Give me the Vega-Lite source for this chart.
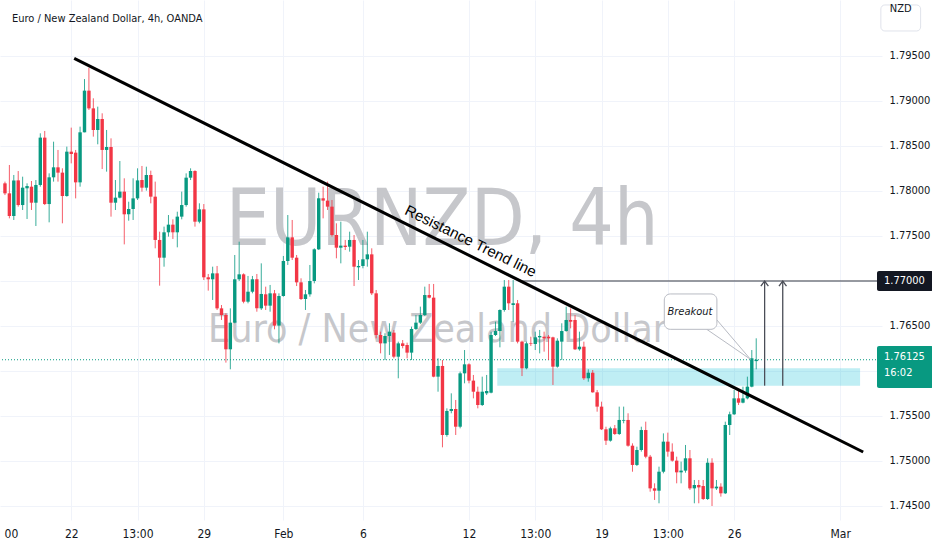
{
  "$schema": "https://vega.github.io/schema/vega-lite/v6.json",
  "width": 882,
  "height": 520,
  "autosize": {"type": "none"},
  "padding": {"left": 0, "top": 0, "right": 50, "bottom": 30},
  "background": "white",
  "config": {"view": {"stroke": null}, "font": "Liberation Sans Narrow, DejaVu Sans Condensed, Roboto Condensed, Arial, sans-serif"},
  "data": {"values": [{"one": 1}]},
  "datasets": {
    "candles": [
      {"i":-15,"o":1.78085,"h":1.78104,"l":1.77955,"c":1.77974},
      {"i":-14,"o":1.77974,"h":1.78289,"l":1.77696,"c":1.77722},
      {"i":-13,"o":1.77722,"h":1.78178,"l":1.77678,"c":1.78118},
      {"i":-12,"o":1.78118,"h":1.78222,"l":1.77826,"c":1.77844},
      {"i":-11,"o":1.77844,"h":1.78159,"l":1.77789,"c":1.78037},
      {"i":-10,"o":1.78030,"h":1.78085,"l":1.77689,"c":1.78055},
      {"i":-9,"o":1.78048,"h":1.78111,"l":1.77789,"c":1.77870},
      {"i":-8,"o":1.77870,"h":1.78122,"l":1.77611,"c":1.78067},
      {"i":-7,"o":1.78067,"h":1.78641,"l":1.78048,"c":1.78593},
      {"i":-6,"o":1.78593,"h":1.78667,"l":1.77844,"c":1.77855},
      {"i":-5,"o":1.77855,"h":1.78196,"l":1.77652,"c":1.78152},
      {"i":-4,"o":1.78152,"h":1.78548,"l":1.78104,"c":1.78263},
      {"i":-3,"o":1.78263,"h":1.78456,"l":1.78104,"c":1.78204},
      {"i":-2,"o":1.78204,"h":1.78252,"l":1.77641,"c":1.77944},
      {"i":-1,"o":1.77944,"h":1.78493,"l":1.77937,"c":1.78437},
      {"i":0,"o":1.78437,"h":1.78704,"l":1.78307,"c":1.78411},
      {"i":1,"o":1.78426,"h":1.78456,"l":1.77918,"c":1.78096},
      {"i":2,"o":1.78096,"h":1.78715,"l":1.78048,"c":1.78652},
      {"i":3,"o":1.78652,"h":1.79244,"l":1.78652,"c":1.79115},
      {"i":4,"o":1.79115,"h":1.79370,"l":1.78900,"c":1.78918},
      {"i":5,"o":1.78918,"h":1.79030,"l":1.78604,"c":1.78678},
      {"i":6,"o":1.78678,"h":1.78937,"l":1.78519,"c":1.78800},
      {"i":7,"o":1.78800,"h":1.78863,"l":1.78244,"c":1.78456},
      {"i":8,"o":1.78456,"h":1.78678,"l":1.78215,"c":1.78489},
      {"i":9,"o":1.78489,"h":1.78585,"l":1.77715,"c":1.77870},
      {"i":10,"o":1.77870,"h":1.78122,"l":1.77789,"c":1.77926},
      {"i":11,"o":1.77926,"h":1.78333,"l":1.77918,"c":1.77993},
      {"i":12,"o":1.77993,"h":1.78141,"l":1.77407,"c":1.77741},
      {"i":13,"o":1.77741,"h":1.77881,"l":1.77670,"c":1.77800},
      {"i":14,"o":1.77800,"h":1.78141,"l":1.77678,"c":1.77918},
      {"i":15,"o":1.77918,"h":1.78252,"l":1.77900,"c":1.78118},
      {"i":16,"o":1.78122,"h":1.78278,"l":1.77993,"c":1.78037},
      {"i":17,"o":1.78037,"h":1.78270,"l":1.78004,"c":1.78178},
      {"i":18,"o":1.78178,"h":1.78226,"l":1.77863,"c":1.77937},
      {"i":19,"o":1.77937,"h":1.78104,"l":1.77363,"c":1.77456},
      {"i":20,"o":1.77456,"h":1.77548,"l":1.76948,"c":1.77259},
      {"i":21,"o":1.77259,"h":1.77604,"l":1.77159,"c":1.77541},
      {"i":22,"o":1.77541,"h":1.77733,"l":1.77493,"c":1.77626},
      {"i":23,"o":1.77626,"h":1.77685,"l":1.77467,"c":1.77541},
      {"i":24,"o":1.77541,"h":1.77770,"l":1.77374,"c":1.77715},
      {"i":25,"o":1.77715,"h":1.77993,"l":1.77685,"c":1.77844},
      {"i":26,"o":1.77844,"h":1.78196,"l":1.77826,"c":1.78148},
      {"i":27,"o":1.78148,"h":1.78252,"l":1.78122,"c":1.78222},
      {"i":28,"o":1.78222,"h":1.78230,"l":1.77604,"c":1.77659},
      {"i":29,"o":1.77659,"h":1.77863,"l":1.77641,"c":1.77796},
      {"i":30,"o":1.77796,"h":1.77855,"l":1.77011,"c":1.77041},
      {"i":31,"o":1.77041,"h":1.77078,"l":1.76893,"c":1.77019},
      {"i":32,"o":1.77019,"h":1.77159,"l":1.76789,"c":1.77085},
      {"i":33,"o":1.77085,"h":1.77167,"l":1.76678,"c":1.76696},
      {"i":34,"o":1.76696,"h":1.76733,"l":1.76567,"c":1.76622},
      {"i":35,"o":1.76622,"h":1.76641,"l":1.76093,"c":1.76241},
      {"i":36,"o":1.76241,"h":1.76696,"l":1.76019,"c":1.76537},
      {"i":37,"o":1.76537,"h":1.77289,"l":1.76530,"c":1.77019},
      {"i":38,"o":1.77019,"h":1.77437,"l":1.77000,"c":1.77074},
      {"i":39,"o":1.77074,"h":1.77085,"l":1.76752,"c":1.76770},
      {"i":40,"o":1.76770,"h":1.77056,"l":1.76752,"c":1.76881},
      {"i":41,"o":1.76881,"h":1.77056,"l":1.76863,"c":1.77019},
      {"i":42,"o":1.77019,"h":1.77078,"l":1.76659,"c":1.76696},
      {"i":43,"o":1.76696,"h":1.77196,"l":1.76678,"c":1.76856},
      {"i":44,"o":1.76852,"h":1.76937,"l":1.76678,"c":1.76726},
      {"i":45,"o":1.76726,"h":1.76956,"l":1.76659,"c":1.76863},
      {"i":46,"o":1.76863,"h":1.76900,"l":1.76463,"c":1.76504},
      {"i":47,"o":1.76504,"h":1.76863,"l":1.76307,"c":1.76833},
      {"i":48,"o":1.76833,"h":1.77278,"l":1.76826,"c":1.77222},
      {"i":49,"o":1.77222,"h":1.77733,"l":1.77178,"c":1.77485},
      {"i":50,"o":1.77485,"h":1.77678,"l":1.77233,"c":1.77259},
      {"i":51,"o":1.77259,"h":1.77289,"l":1.76944,"c":1.76985},
      {"i":52,"o":1.76985,"h":1.77030,"l":1.76789,"c":1.76800},
      {"i":53,"o":1.76800,"h":1.76900,"l":1.76678,"c":1.76852},
      {"i":54,"o":1.76852,"h":1.77178,"l":1.76826,"c":1.77000},
      {"i":55,"o":1.77000,"h":1.77363,"l":1.76974,"c":1.77352},
      {"i":56,"o":1.77352,"h":1.77981,"l":1.77344,"c":1.77919},
      {"i":57,"o":1.77919,"h":1.78048,"l":1.77696,"c":1.77893},
      {"i":58,"o":1.77893,"h":1.78104,"l":1.77789,"c":1.77826},
      {"i":59,"o":1.77826,"h":1.77900,"l":1.77493,"c":1.77511},
      {"i":60,"o":1.77511,"h":1.77641,"l":1.77252,"c":1.77370},
      {"i":61,"o":1.77370,"h":1.77659,"l":1.77196,"c":1.77393},
      {"i":62,"o":1.77393,"h":1.77456,"l":1.77344,"c":1.77378},
      {"i":63,"o":1.77381,"h":1.77548,"l":1.77326,"c":1.77456},
      {"i":64,"o":1.77456,"h":1.77511,"l":1.76944,"c":1.77159},
      {"i":65,"o":1.77152,"h":1.77233,"l":1.77011,"c":1.77167},
      {"i":66,"o":1.77167,"h":1.77456,"l":1.77141,"c":1.77241},
      {"i":67,"o":1.77241,"h":1.77548,"l":1.77159,"c":1.77296},
      {"i":68,"o":1.77296,"h":1.77363,"l":1.76844,"c":1.76863},
      {"i":69,"o":1.76863,"h":1.76900,"l":1.76363,"c":1.76400},
      {"i":70,"o":1.76400,"h":1.76437,"l":1.76196,"c":1.76307},
      {"i":71,"o":1.76307,"h":1.76419,"l":1.76122,"c":1.76389},
      {"i":72,"o":1.76389,"h":1.76530,"l":1.76178,"c":1.76437},
      {"i":73,"o":1.76426,"h":1.76456,"l":1.76141,"c":1.76159},
      {"i":74,"o":1.76159,"h":1.76326,"l":1.75919,"c":1.76307},
      {"i":75,"o":1.76307,"h":1.76344,"l":1.76252,"c":1.76278},
      {"i":76,"o":1.76289,"h":1.76315,"l":1.76141,"c":1.76204},
      {"i":77,"o":1.76204,"h":1.76493,"l":1.76122,"c":1.76467},
      {"i":78,"o":1.76467,"h":1.76622,"l":1.76456,"c":1.76537},
      {"i":79,"o":1.76537,"h":1.76715,"l":1.76522,"c":1.76622},
      {"i":80,"o":1.76622,"h":1.76937,"l":1.76611,"c":1.76844},
      {"i":81,"o":1.76844,"h":1.76967,"l":1.76807,"c":1.76815},
      {"i":82,"o":1.76815,"h":1.76967,"l":1.75930,"c":1.75937},
      {"i":83,"o":1.75937,"h":1.76141,"l":1.75770,"c":1.76056},
      {"i":84,"o":1.76056,"h":1.76122,"l":1.75152,"c":1.75289},
      {"i":85,"o":1.75289,"h":1.75585,"l":1.75270,"c":1.75556},
      {"i":86,"o":1.75556,"h":1.75752,"l":1.75530,"c":1.75578},
      {"i":87,"o":1.75578,"h":1.75678,"l":1.75289,"c":1.75381},
      {"i":88,"o":1.75381,"h":1.75993,"l":1.75363,"c":1.75974},
      {"i":89,"o":1.75974,"h":1.76233,"l":1.75863,"c":1.76074},
      {"i":90,"o":1.76074,"h":1.76085,"l":1.75863,"c":1.75893},
      {"i":91,"o":1.75893,"h":1.75956,"l":1.75696,"c":1.75770},
      {"i":92,"o":1.75770,"h":1.75826,"l":1.75585,"c":1.75622},
      {"i":93,"o":1.75622,"h":1.75937,"l":1.75611,"c":1.75770},
      {"i":94,"o":1.75752,"h":1.75956,"l":1.75733,"c":1.75778},
      {"i":95,"o":1.75759,"h":1.76437,"l":1.75752,"c":1.76400},
      {"i":96,"o":1.76400,"h":1.76548,"l":1.76389,"c":1.76444},
      {"i":97,"o":1.76444,"h":1.76685,"l":1.76263,"c":1.76678},
      {"i":98,"o":1.76678,"h":1.77011,"l":1.76659,"c":1.76937},
      {"i":99,"o":1.76937,"h":1.77011,"l":1.76678,"c":1.76752},
      {"i":100,"o":1.76733,"h":1.77011,"l":1.76548,"c":1.76752},
      {"i":101,"o":1.76752,"h":1.76789,"l":1.76307,"c":1.76326},
      {"i":102,"o":1.76326,"h":1.76337,"l":1.75944,"c":1.76030},
      {"i":103,"o":1.76030,"h":1.76326,"l":1.76019,"c":1.76307},
      {"i":104,"o":1.76307,"h":1.76381,"l":1.76278,"c":1.76300},
      {"i":105,"o":1.76300,"h":1.76437,"l":1.76233,"c":1.76374},
      {"i":106,"o":1.76374,"h":1.76456,"l":1.76196,"c":1.76389},
      {"i":107,"o":1.76381,"h":1.76437,"l":1.76215,"c":1.76363},
      {"i":108,"o":1.76381,"h":1.76400,"l":1.76122,"c":1.76363},
      {"i":109,"o":1.76374,"h":1.76381,"l":1.75845,"c":1.76048},
      {"i":110,"o":1.76048,"h":1.76363,"l":1.76037,"c":1.76337},
      {"i":111,"o":1.76326,"h":1.76530,"l":1.76122,"c":1.76444},
      {"i":112,"o":1.76444,"h":1.76715,"l":1.76437,"c":1.76567},
      {"i":113,"o":1.76567,"h":1.76696,"l":1.76474,"c":1.76548},
      {"i":114,"o":1.76567,"h":1.76622,"l":1.76233,"c":1.76241},
      {"i":115,"o":1.76241,"h":1.76437,"l":1.76226,"c":1.76270},
      {"i":116,"o":1.76270,"h":1.76326,"l":1.75900,"c":1.75919},
      {"i":117,"o":1.75919,"h":1.76019,"l":1.75881,"c":1.75981},
      {"i":118,"o":1.75981,"h":1.76011,"l":1.75759,"c":1.75763},
      {"i":119,"o":1.75763,"h":1.75789,"l":1.75548,"c":1.75604},
      {"i":120,"o":1.75604,"h":1.75659,"l":1.75344,"c":1.75352},
      {"i":121,"o":1.75352,"h":1.75381,"l":1.75178,"c":1.75226},
      {"i":122,"o":1.75226,"h":1.75381,"l":1.75215,"c":1.75363},
      {"i":123,"o":1.75363,"h":1.75400,"l":1.75289,"c":1.75300},
      {"i":124,"o":1.75300,"h":1.75604,"l":1.75289,"c":1.75456},
      {"i":125,"o":1.75448,"h":1.75604,"l":1.75419,"c":1.75456},
      {"i":126,"o":1.75456,"h":1.75530,"l":1.75159,"c":1.75170},
      {"i":127,"o":1.75170,"h":1.75196,"l":1.74881,"c":1.74956},
      {"i":128,"o":1.74956,"h":1.75159,"l":1.74944,"c":1.75122},
      {"i":129,"o":1.75122,"h":1.75381,"l":1.75104,"c":1.75344},
      {"i":130,"o":1.75344,"h":1.75437,"l":1.75030,"c":1.75048},
      {"i":131,"o":1.75048,"h":1.75067,"l":1.74659,"c":1.74696},
      {"i":132,"o":1.74696,"h":1.74752,"l":1.74567,"c":1.74670},
      {"i":133,"o":1.74670,"h":1.74937,"l":1.74530,"c":1.74881},
      {"i":134,"o":1.74881,"h":1.75307,"l":1.74863,"c":1.75215},
      {"i":135,"o":1.75215,"h":1.75315,"l":1.75048,"c":1.75104},
      {"i":136,"o":1.75104,"h":1.75196,"l":1.74993,"c":1.75004},
      {"i":137,"o":1.75004,"h":1.75048,"l":1.74752,"c":1.74874},
      {"i":138,"o":1.74874,"h":1.74993,"l":1.74752,"c":1.74893},
      {"i":139,"o":1.74893,"h":1.75178,"l":1.74870,"c":1.75030},
      {"i":140,"o":1.75030,"h":1.75122,"l":1.74678,"c":1.74696},
      {"i":141,"o":1.74696,"h":1.74789,"l":1.74530,"c":1.74733},
      {"i":142,"o":1.74733,"h":1.74789,"l":1.74530,"c":1.74707},
      {"i":143,"o":1.74722,"h":1.74789,"l":1.74567,"c":1.74578},
      {"i":144,"o":1.74578,"h":1.75030,"l":1.74567,"c":1.74981},
      {"i":145,"o":1.74981,"h":1.75030,"l":1.74500,"c":1.74696},
      {"i":146,"o":1.74696,"h":1.74789,"l":1.74678,"c":1.74715},
      {"i":147,"o":1.74715,"h":1.74752,"l":1.74604,"c":1.74641},
      {"i":148,"o":1.74641,"h":1.75437,"l":1.74633,"c":1.75400},
      {"i":149,"o":1.75400,"h":1.75548,"l":1.75289,"c":1.75519},
      {"i":150,"o":1.75519,"h":1.75789,"l":1.75511,"c":1.75696},
      {"i":151,"o":1.75696,"h":1.75789,"l":1.75622,"c":1.75648},
      {"i":152,"o":1.75648,"h":1.75826,"l":1.75641,"c":1.75696},
      {"i":153,"o":1.75696,"h":1.75937,"l":1.75685,"c":1.75826},
      {"i":154,"o":1.75826,"h":1.76233,"l":1.75819,"c":1.76141},
      {"i":155,"o":1.76110,"h":1.76363,"l":1.76019,"c":1.76125}
    ],
    "arrows": [
      {"id": "a", "i": 156.9, "p0": 1.75837, "p1": 1.77},
      {"id": "b", "i": 161.0, "p0": 1.75837, "p1": 1.77}
    ],
    "heads": [
      {"id": "a", "k": 0, "i": 156.05, "p": 1.76944},
      {"id": "a", "k": 1, "i": 156.9, "p": 1.77},
      {"id": "a", "k": 2, "i": 157.75, "p": 1.76944},
      {"id": "b", "k": 0, "i": 160.15, "p": 1.76944},
      {"id": "b", "k": 1, "i": 161.0, "p": 1.77},
      {"id": "b", "k": 2, "i": 161.85, "p": 1.76944}
    ],
    "tail": [
      {"k": 0, "i": 143.8, "p": 1.76463},
      {"k": 1, "i": 153.7, "p": 1.76130},
      {"k": 2, "i": 146.1, "p": 1.76567}
    ]
  },
  "layer": [
    {
      "mark": {"type": "text", "fontSize": 78, "color": "#c6c7cb", "align": "center", "baseline": "alphabetic"},
      "encoding": {
        "x": {"datum": 83.9, "type": "quantitative", "scale": {"domain": [-14.99, 182.33], "nice": false, "zero": false}},
        "y": {"datum": 1.774, "type": "quantitative", "scale": {"domain": [1.743444, 1.801222], "nice": false, "zero": false}},
        "text": {"value": "EURNZD, 4h"}
      }
    },
    {
      "mark": {"type": "text", "fontSize": 39, "color": "#c6c7cb", "align": "center", "baseline": "alphabetic"},
      "encoding": {
        "x": {"datum": 82.9, "type": "quantitative", "scale": {"domain": [-14.99, 182.33], "nice": false, "zero": false}},
        "y": {"datum": 1.76322, "type": "quantitative", "scale": {"domain": [1.743444, 1.801222], "nice": false, "zero": false}},
        "text": {"value": "Euro / New Zealand Dollar"}
      }
    },
    {
      "mark": {"type": "rect", "color": "#00bcd4", "opacity": 0.25},
      "encoding": {
        "x": {"datum": 96.4, "type": "quantitative", "scale": {"domain": [-14.99, 182.33], "nice": false, "zero": false}},
        "x2": {"datum": 178.5},
        "y": {"datum": 1.75837, "type": "quantitative", "scale": {"domain": [1.743444, 1.801222], "nice": false, "zero": false}},
        "y2": {"datum": 1.7603}
      }
    },
    {
      "mark": {"type": "rule", "color": "#089981", "strokeDash": [1, 2], "strokeWidth": 1},
      "encoding": {
        "y": {"datum": 1.76125, "type": "quantitative", "scale": {"domain": [1.743444, 1.801222], "nice": false, "zero": false}}
      }
    },
    {
      "mark": {"type": "rule", "color": "#363a45", "strokeWidth": 1},
      "encoding": {
        "x": {"datum": 102, "type": "quantitative", "scale": {"domain": [-14.99, 182.33], "nice": false, "zero": false}},
        "x2": {"datum": 182.33},
        "y": {"datum": 1.77, "type": "quantitative", "scale": {"domain": [1.743444, 1.801222], "nice": false, "zero": false}}
      }
    },
    {
      "data": {"name": "candles"},
      "mark": {"type": "rule", "strokeWidth": 1, "opacity": 0.8},
      "encoding": {
        "x": {
          "field": "i", "type": "quantitative",
          "scale": {"domain": [-14.99, 182.33], "nice": false, "zero": false},
          "axis": {
            "orient": "bottom", "title": null, "domain": false, "ticks": false,
            "values": [-13.65, 0, 15, 30, 48, 66, 90, 105, 120, 135, 150, 174],
            "labelExpr": "datum.value < -10 ? '00' : datum.value == 0 ? '22' : datum.value == 15 ? '13:00' : datum.value == 30 ? '29' : datum.value == 48 ? 'Feb' : datum.value == 66 ? '6' : datum.value == 90 ? '12' : datum.value == 105 ? '13:00' : datum.value == 120 ? '19' : datum.value == 135 ? '13:00' : datum.value == 150 ? '26' : 'Mar'",
            "labelFontSize": 12, "labelColor": "#131722", "labelPadding": 8,
            "labelOverlap": false, "labelBound": false, "labelFlush": false,
            "grid": true, "gridWidth": 1,
            "gridColor": {"condition": {"test": "datum.value < -10", "value": "rgba(0,0,0,0)"}, "value": "#f0f3fa"}
          }
        },
        "y": {
          "field": "l", "type": "quantitative",
          "scale": {"domain": [1.743444, 1.801222], "nice": false, "zero": false},
          "axis": {
            "orient": "right", "title": null, "domain": false, "ticks": false,
            "values": [1.745, 1.75, 1.755, 1.76, 1.765, 1.77, 1.775, 1.78, 1.785, 1.79, 1.795],
            "labelExpr": "(datum.value == 1.77 || datum.value == 1.76) ? '' : format(datum.value, '.5f')",
            "labelFontSize": 11, "labelColor": "#131722", "labelPadding": 7,
            "labelAlign": "left", "labelOverlap": false, "labelBound": false, "labelFlush": false,
            "grid": true, "gridColor": "#f0f3fa", "gridWidth": 1
          }
        },
        "y2": {"field": "h"},
        "color": {"condition": {"test": "datum.c >= datum.o", "value": "#089981"}, "value": "#f23645"}
      }
    },
    {
      "data": {"name": "candles"},
      "mark": {"type": "bar", "size": 3.4},
      "encoding": {
        "x": {"field": "i", "type": "quantitative", "scale": {"domain": [-14.99, 182.33], "nice": false, "zero": false}},
        "y": {"field": "o", "type": "quantitative", "scale": {"domain": [1.743444, 1.801222], "nice": false, "zero": false}},
        "y2": {"field": "c"},
        "color": {"condition": {"test": "datum.c >= datum.o", "value": "#089981"}, "value": "#f23645"}
      }
    },
    {
      "mark": {"type": "rule", "color": "#000000", "strokeWidth": 3},
      "encoding": {
        "x": {"datum": 0.67, "type": "quantitative", "scale": {"domain": [-14.99, 182.33], "nice": false, "zero": false}},
        "x2": {"datum": 179.2},
        "y": {"datum": 1.79474, "type": "quantitative", "scale": {"domain": [1.743444, 1.801222], "nice": false, "zero": false}},
        "y2": {"datum": 1.751}
      }
    },
    {
      "mark": {"type": "text", "fontSize": 15, "color": "#000000", "angle": 26.2, "align": "center", "baseline": "middle", "font": "Liberation Sans, Arial, sans-serif"},
      "encoding": {
        "x": {"datum": 90.4, "type": "quantitative", "scale": {"domain": [-14.99, 182.33], "nice": false, "zero": false}},
        "y": {"datum": 1.77444, "type": "quantitative", "scale": {"domain": [1.743444, 1.801222], "nice": false, "zero": false}},
        "text": {"value": "Resistance Trend line"}
      }
    },
    {
      "data": {"name": "arrows"},
      "mark": {"type": "rule", "color": "#4a4d57", "strokeWidth": 1.3},
      "encoding": {
        "x": {"field": "i", "type": "quantitative", "scale": {"domain": [-14.99, 182.33], "nice": false, "zero": false}},
        "y": {"field": "p0", "type": "quantitative", "scale": {"domain": [1.743444, 1.801222], "nice": false, "zero": false}},
        "y2": {"field": "p1"}
      }
    },
    {
      "data": {"name": "heads"},
      "mark": {"type": "line", "color": "#4a4d57", "strokeWidth": 1.3},
      "encoding": {
        "x": {"field": "i", "type": "quantitative", "scale": {"domain": [-14.99, 182.33], "nice": false, "zero": false}},
        "y": {"field": "p", "type": "quantitative", "scale": {"domain": [1.743444, 1.801222], "nice": false, "zero": false}},
        "detail": {"field": "id"},
        "order": {"field": "k"}
      }
    },
    {
      "data": {"name": "tail"},
      "mark": {"type": "line", "color": "#b8bbc3", "strokeWidth": 1},
      "encoding": {
        "x": {"field": "i", "type": "quantitative", "scale": {"domain": [-14.99, 182.33], "nice": false, "zero": false}},
        "y": {"field": "p", "type": "quantitative", "scale": {"domain": [1.743444, 1.801222], "nice": false, "zero": false}},
        "order": {"field": "k"}
      }
    },
    {
      "mark": {"type": "rect", "fill": "#ffffff", "stroke": "#b8bbc3", "strokeWidth": 1, "cornerRadius": 6},
      "encoding": {
        "x": {"datum": 134.2, "type": "quantitative", "scale": {"domain": [-14.99, 182.33], "nice": false, "zero": false}},
        "x2": {"datum": 146.1},
        "y": {"datum": 1.76856, "type": "quantitative", "scale": {"domain": [1.743444, 1.801222], "nice": false, "zero": false}},
        "y2": {"datum": 1.76463}
      }
    },
    {
      "mark": {"type": "text", "fontSize": 11, "fontStyle": "italic", "color": "#131722", "align": "center", "baseline": "middle"},
      "encoding": {
        "x": {"datum": 140.0, "type": "quantitative", "scale": {"domain": [-14.99, 182.33], "nice": false, "zero": false}},
        "y": {"datum": 1.76659, "type": "quantitative", "scale": {"domain": [1.743444, 1.801222], "nice": false, "zero": false}},
        "text": {"value": "Breakout"}
      }
    },
    {
      "mark": {"type": "rect", "fill": "#131722", "cornerRadius": 2},
      "encoding": {
        "x": {"datum": 182.33, "type": "quantitative", "scale": {"domain": [-14.99, 182.33], "nice": false, "zero": false}},
        "x2": {"datum": 195},
        "y": {"datum": 1.77111, "type": "quantitative", "scale": {"domain": [1.743444, 1.801222], "nice": false, "zero": false}},
        "y2": {"datum": 1.76889}
      }
    },
    {
      "mark": {"type": "text", "fontSize": 11, "color": "#ffffff", "align": "left", "baseline": "middle"},
      "encoding": {
        "x": {"datum": 183.9, "type": "quantitative", "scale": {"domain": [-14.99, 182.33], "nice": false, "zero": false}},
        "y": {"datum": 1.77, "type": "quantitative", "scale": {"domain": [1.743444, 1.801222], "nice": false, "zero": false}},
        "text": {"value": "1.77000"}
      }
    },
    {
      "mark": {"type": "rect", "fill": "#089981", "cornerRadius": 2},
      "encoding": {
        "x": {"datum": 182.33, "type": "quantitative", "scale": {"domain": [-14.99, 182.33], "nice": false, "zero": false}},
        "x2": {"datum": 195},
        "y": {"datum": 1.76278, "type": "quantitative", "scale": {"domain": [1.743444, 1.801222], "nice": false, "zero": false}},
        "y2": {"datum": 1.75811}
      }
    },
    {
      "mark": {"type": "text", "fontSize": 11, "color": "#ffffff", "align": "left", "baseline": "middle"},
      "encoding": {
        "x": {"datum": 183.9, "type": "quantitative", "scale": {"domain": [-14.99, 182.33], "nice": false, "zero": false}},
        "y": {"datum": 1.76156, "type": "quantitative", "scale": {"domain": [1.743444, 1.801222], "nice": false, "zero": false}},
        "text": {"value": "1.76125"}
      }
    },
    {
      "mark": {"type": "text", "fontSize": 11, "color": "#ffffff", "align": "left", "baseline": "middle"},
      "encoding": {
        "x": {"datum": 183.9, "type": "quantitative", "scale": {"domain": [-14.99, 182.33], "nice": false, "zero": false}},
        "y": {"datum": 1.75978, "type": "quantitative", "scale": {"domain": [1.743444, 1.801222], "nice": false, "zero": false}},
        "text": {"value": "16:02"}
      }
    },
    {
      "mark": {"type": "rect", "fill": "#ffffff", "stroke": "#e0e3eb", "strokeWidth": 1, "cornerRadius": 4},
      "encoding": {
        "x": {"datum": 183.2, "type": "quantitative", "scale": {"domain": [-14.99, 182.33], "nice": false, "zero": false}},
        "x2": {"datum": 192.2},
        "y": {"datum": 1.80067, "type": "quantitative", "scale": {"domain": [1.743444, 1.801222], "nice": false, "zero": false}},
        "y2": {"datum": 1.79778}
      }
    },
    {
      "mark": {"type": "text", "fontSize": 11, "color": "#131722", "align": "center", "baseline": "middle"},
      "encoding": {
        "x": {"datum": 187.7, "type": "quantitative", "scale": {"domain": [-14.99, 182.33], "nice": false, "zero": false}},
        "y": {"datum": 1.80022, "type": "quantitative", "scale": {"domain": [1.743444, 1.801222], "nice": false, "zero": false}},
        "text": {"value": "NZD"}
      }
    },
    {
      "mark": {"type": "text", "fontSize": 11, "color": "#131722", "align": "left", "baseline": "middle"},
      "encoding": {
        "x": {"datum": -13.42, "type": "quantitative", "scale": {"domain": [-14.99, 182.33], "nice": false, "zero": false}},
        "y": {"datum": 1.79911, "type": "quantitative", "scale": {"domain": [1.743444, 1.801222], "nice": false, "zero": false}},
        "text": {"value": "Euro / New Zealand Dollar, 4h, OANDA"}
      }
    }
  ]
}
